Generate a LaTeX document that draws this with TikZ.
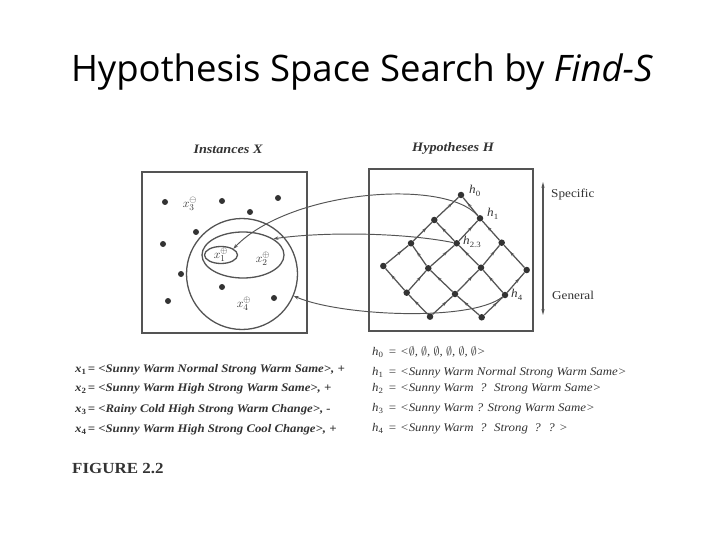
\documentclass[tikz,border=0pt]{standalone}
\usepackage{fontspec}
\setmainfont[FakeStretch=1.1]{Liberation Serif}
\newfontfamily\titlefont{Open Sans}
\usetikzlibrary{shapes.geometric,arrows.meta,decorations.markings}
\definecolor{scan}{HTML}{545454}
\definecolor{ink}{HTML}{333333}
\newcommand{\mysub}[1]{\raisebox{-0.5ex}{\upshape\footnotesize #1}}
\begin{document}
\begin{tikzpicture}[x=1pt,y=-1pt,
  frame/.style={draw=scan, line width=1.4pt},
  ring/.style={draw=scan, line width=1.3pt, inner sep=0pt},
  dot/.style={circle, fill=ink, inner sep=0pt, minimum size=6pt},
  ldot/.style={circle, fill=ink, inner sep=0pt, minimum size=6.5pt},
  lat/.style={draw=scan, line width=1.25pt, postaction={decorate},
    decoration={markings, mark=at position 0.7 with {\arrow{Stealth[length=4.5pt,width=3.2pt]}}}},
  link/.style={draw=scan, line width=0.95pt, -{Stealth[length=5pt,width=3.5pt]}},
  lbl/.style={text=ink, font=\itshape\fontsize{12}{13}\selectfont, inner sep=0pt},
  inst/.style={text=ink, font=\fontsize{12.5}{13}\selectfont, inner sep=0pt},
  head/.style={text=ink, font=\itshape\bfseries\fontsize{12.9}{14}\selectfont, inner sep=0pt},
  xline/.style={text=ink, font=\itshape\bfseries\fontsize{11.6}{13}\selectfont, inner sep=0pt, anchor=base west},
  hline/.style={text=ink, font=\itshape\fontsize{11.7}{13}\selectfont, inner sep=0pt, anchor=base west},
  side/.style={text=ink, font=\fontsize{12}{13}\selectfont, inner sep=0pt, anchor=west}
]
\fill[white] (0,0) rectangle (720,540);
\useasboundingbox (0,0) rectangle (720,540);

% title
\node[anchor=base, inner sep=0pt, font=\titlefont\fontsize{36.5}{42}\selectfont] (title) at (362,82)
  {Hypothesis Space Search by \textit{Find-S}};

% headings
\node[head] (hx) at (228,149) {Instances X};
\node[head] (hh) at (453,148) {Hypotheses H};

% frames
\draw[frame] (142,172) rectangle (307,333);
\draw[frame] (369,169) rectangle (533,331);

% instance regions
\node[ring, circle, draw, minimum size=111pt] (c4) at (242,274) {};
\node[ring, ellipse, draw, minimum width=82pt, minimum height=46pt] (e2) at (243,255) {};
\node[ring, ellipse, draw, minimum width=33pt, minimum height=17pt] (e1) at (221,255) {};
\node[inst] (x1) at (221,255) {$x^{\oplus}_{1}$};
\node[inst] (x2) at (263,259) {$x^{\oplus}_{2}$};
\node[inst] (x3) at (190,204) {$x^{\ominus}_{3}$};
\node[inst] (x4) at (244,304) {$x^{\oplus}_{4}$};

% instance dots
\foreach \p [count=\k] in {(165,202),(222,201),(278,198),(250,212),(196,232),(163,244),(181,274),(222,287),(168,301),(274,298)}
  \node[dot] (d\k) at \p {};

% lattice
\node[ldot] (v00) at (461,195) {};
\node[ldot] (v10) at (434.3,220) {};
\node[ldot] (v01) at (480,218.3) {};
\node[ldot] (v20) at (411,243.3) {};
\node[ldot] (v11) at (456.7,243.3) {};
\node[ldot] (v02) at (501.7,242.7) {};
\node[ldot] (v30) at (383.3,266) {};
\node[ldot] (v21) at (428.3,268.3) {};
\node[ldot] (v12) at (481,267.7) {};
\node[ldot] (v03) at (526.7,270) {};
\node[ldot] (v31) at (406.7,292.7) {};
\node[ldot] (v22) at (455,294) {};
\node[ldot] (v13) at (505,295) {};
\node[ldot] (v32) at (430,316.7) {};
\node[ldot] (v23) at (481.7,317.3) {};

\foreach \a/\b in {v10/v00,v20/v10,v30/v20,v11/v01,v21/v11,v31/v21,v12/v02,v22/v12,v32/v22,v13/v03,v23/v13,
                   v01/v00,v02/v01,v03/v02,v11/v10,v12/v11,v13/v12,v21/v20,v22/v21,v23/v22,v31/v30,v32/v31}
  \draw[lat] (\a) -- (\b);

\node[lbl, anchor=west] (lh0) at (469,191) {h\mysub{0}};
\node[lbl, anchor=west] (lh1) at (487,214) {h\mysub{1}};
\node[lbl, anchor=west] (lh23) at (463,242) {h\mysub{2.3}};
\node[lbl, anchor=west] (lh4) at (511,295) {h\mysub{4}};

% links between hypotheses and instances
\draw[link] (v01) .. controls (445,178) and (290,190) .. (e1.27);
\draw[link] (v11) .. controls (400,232) and (320,232) .. (e2.28);
\draw[link] (v13) .. controls (470,322) and (340,316) .. (c4.-23);

% specific / general
\coordinate (sgtop) at (543,182);
\coordinate (sgbot) at (543,315);
\draw[scan, line width=1.2pt, {Stealth[length=6pt,width=3.2pt]}-{Stealth[length=6pt,width=3.2pt]}] (sgtop) -- (sgbot);
\node[side] (spec) at (551,195) {Specific};
\node[side] (gen) at (552,295) {General};

% instance list
\node[xline] (lx1) at (75,372) {x\mysub{1}\,= <Sunny Warm Normal Strong Warm Same>, +};
\node[xline] (lx2) at (75,391) {x\mysub{2}\,= <Sunny Warm High  Strong Warm Same>, +};
\node[xline] (lx3) at (75,412) {x\mysub{3}\,= <Rainy Cold High Strong Warm Change>, -};
\node[xline] (lx4) at (75,432) {x\mysub{4}\,= <Sunny Warm High Strong Cool Change>, +};

% hypothesis list
\node[hline] (lhh0) at (372,355) {h\mysub{0}\, = <$\emptyset$, $\emptyset$, $\emptyset$, $\emptyset$, $\emptyset$, $\emptyset$>};
\node[hline] (lhh1) at (372,375) {h\mysub{1}\, = <Sunny Warm Normal Strong Warm Same>};
\node[hline] (lhh2) at (372,391) {h\mysub{2}\, = <Sunny Warm \ ? \ Strong Warm Same>};
\node[hline] (lhh3) at (372,411) {h\mysub{3}\, = <Sunny Warm ? Strong Warm Same>};
\node[hline] (lhh4) at (372,431) {h\mysub{4}\, = <Sunny Warm \ ? \ Strong \ ? \ ? >};

\node[anchor=base west, inner sep=0pt, text=ink, font=\bfseries\fontsize{15.4}{17}\selectfont] (fig) at (72,473) {FIGURE 2.2};
\end{tikzpicture}
\end{document}
